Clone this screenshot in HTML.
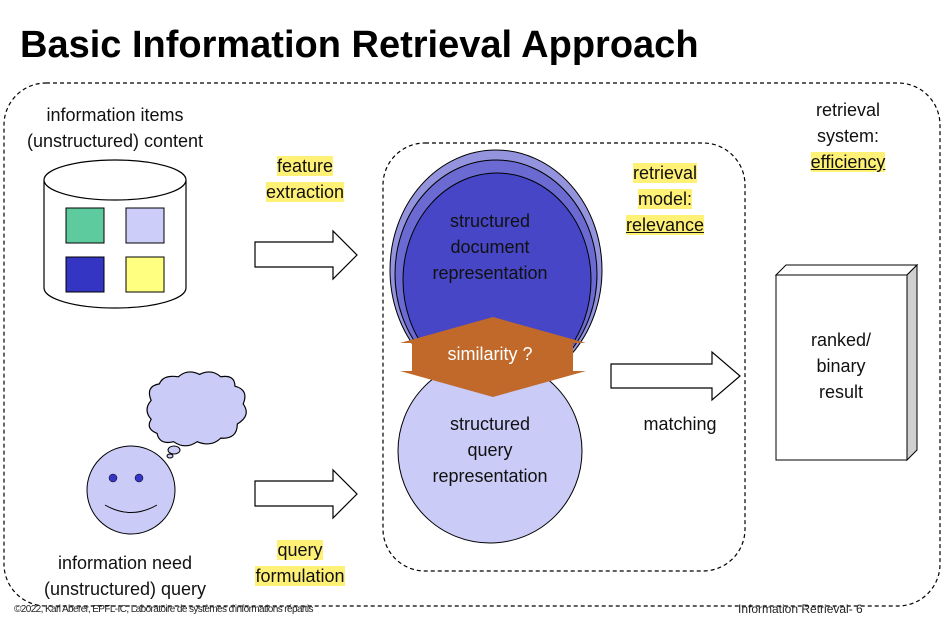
<!DOCTYPE html>
<html><head><meta charset="utf-8"><style>
body{margin:0;width:952px;height:629px;background:#fff;position:relative;overflow:hidden;font-family:"Liberation Sans",sans-serif;}
.t{position:absolute;font-size:18px;color:#111;text-align:center;line-height:26px;white-space:nowrap}
.h{background:#fff176}
.u{text-decoration:underline}
</style></head><body>
<svg width="952" height="629" style="position:absolute;left:0;top:0">
<rect x="4" y="83" width="936" height="523" rx="42" fill="none" stroke="#000" stroke-dasharray="4,3" stroke-width="1.2"/>
<rect x="383" y="143" width="362" height="428" rx="42" fill="none" stroke="#000" stroke-dasharray="4,3" stroke-width="1.2"/>
<path d="M44,180 L44,288 A71,20 0 0 0 186,288 L186,180" fill="#fff" stroke="#000" stroke-width="1.2"/>
<ellipse cx="115" cy="180" rx="71" ry="20" fill="#fff" stroke="#000" stroke-width="1.2"/>
<rect x="66" y="208" width="38" height="35" fill="#5ecb9e" stroke="#000"/>
<rect x="126" y="208" width="38" height="35" fill="#cccdf9" stroke="#000"/>
<rect x="66" y="257" width="38" height="35" fill="#3535c4" stroke="#000"/>
<rect x="126" y="257" width="38" height="35" fill="#ffff80" stroke="#000"/>
<path d="M255,242 H333 V231 L357,255 L333,279 V267 H255 Z" fill="#fff" stroke="#000" stroke-width="1.2"/>
<path d="M255,481 H333 V470 L357,494 L333,518 V506 H255 Z" fill="#fff" stroke="#000" stroke-width="1.2"/>
<path d="M611,364 H712 V352 L740,376 L712,400 V388 H611 Z" fill="#fff" stroke="#000" stroke-width="1.2"/>
<ellipse cx="496" cy="270" rx="106" ry="120" fill="#9393de" stroke="#000"/>
<ellipse cx="496" cy="274" rx="101" ry="114" fill="#6a6ad2" stroke="#000"/>
<ellipse cx="497" cy="280" rx="94" ry="107" fill="#4646c6" stroke="#000"/>
<circle cx="490" cy="451" r="92" fill="#cbcbf8" stroke="#000"/>
<path d="M400,343 L493,317 L586,343 L573,343 L573,371 L586,371 L493,397 L400,371 L412,371 L412,343 Z" fill="#c0692a"/>
<circle cx="131" cy="490" r="44" fill="#cbcbf8" stroke="#000"/>
<circle cx="113" cy="478" r="4" fill="#3535c4" stroke="#000" stroke-width=".5"/>
<circle cx="139" cy="478" r="4" fill="#3535c4" stroke="#000" stroke-width=".5"/>
<path d="M105,505 Q131,520 157,505" fill="none" stroke="#000"/>
<g transform="translate(196,411) scale(1.18) translate(-193,-411)">
<path d="M155,402 Q150,390 162,388 Q165,380 178,382 Q186,375 196,380 Q206,375 214,382 Q226,380 226,390 Q238,393 233,405 Q240,415 228,422 Q228,435 214,434 Q206,442 194,437 Q184,444 174,437 Q162,440 160,430 Q150,426 155,418 Q148,410 155,402 Z" fill="#cbcbf8" stroke="#000"/>
</g>
<ellipse cx="174" cy="450" rx="6" ry="4" fill="#cbcbf8" stroke="#000"/>
<ellipse cx="170" cy="456" rx="3" ry="2" fill="#cbcbf8" stroke="#000"/>
<path d="M776,275 L786,265 L917,265 L907,275 Z" fill="#fff" stroke="#000"/>
<path d="M907,275 L917,265 L917,450 L907,460 Z" fill="#d0d0d0" stroke="#000"/>
<rect x="776" y="275" width="131" height="185" fill="#fff" stroke="#000"/>
</svg>
<div style="position:absolute;left:20px;top:24px;font-size:38px;font-weight:bold;color:#000">Basic Information Retrieval Approach</div>
<div class="t" style="left:10px;top:102px;width:210px">information items<br>(unstructured) content</div>
<div class="t" style="left:250px;top:153px;width:110px"><span class="h">feature</span><br><span class="h">extraction</span></div>
<div class="t" style="left:600px;top:160px;width:130px"><span class="h">retrieval</span><br><span class="h">model:</span><br><span class="h u">relevance</span></div>
<div class="t" style="left:783px;top:97px;width:130px">retrieval<br>system:<br><span class="h u">efficiency</span></div>
<div class="t" style="left:420px;top:208px;width:140px">structured<br>document<br>representation</div>
<div class="t" style="left:430px;top:341px;width:120px;color:#fff">similarity ?</div>
<div class="t" style="left:420px;top:411px;width:140px">structured<br>query<br>representation</div>
<div class="t" style="left:620px;top:411px;width:120px">matching</div>
<div class="t" style="left:781px;top:327px;width:120px">ranked/<br>binary<br>result</div>
<div class="t" style="left:10px;top:550px;width:230px">information need<br>(unstructured) query</div>
<div class="t" style="left:240px;top:537px;width:120px"><span class="h">query</span><br><span class="h">formulation</span></div>
<div style="position:absolute;left:14px;top:604px;font-size:10px;color:#222;letter-spacing:-0.6px">©2022, Karl Aberer, EPFL-IC, Laboratoire de systèmes d'informations répartis</div>
<div style="position:absolute;left:738px;top:602px;font-size:12px;color:#222">Information Retrieval- 6</div>
</body></html>
